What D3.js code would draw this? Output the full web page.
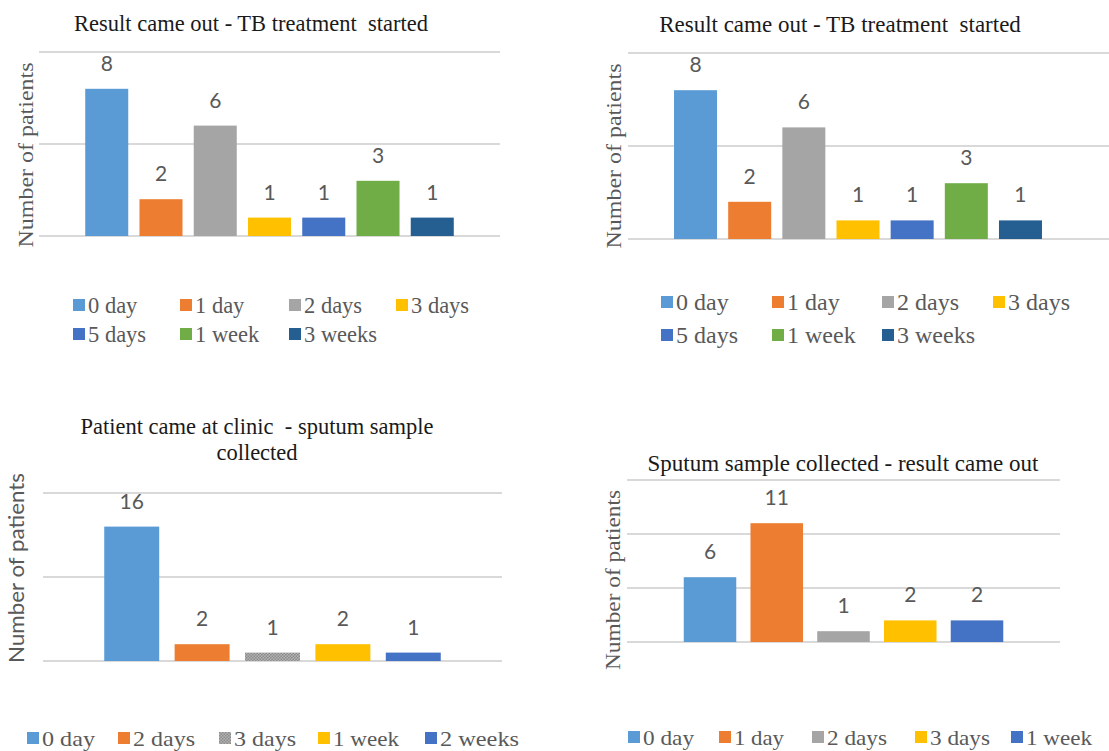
<!DOCTYPE html>
<html>
<head>
<meta charset="utf-8">
<script src="https://cdn.jsdelivr.net/npm/d3@7"></script>
<style>
  body { margin: 0; background: #fff; }
  svg { display: block; }
  .title { font-family: "Liberation Serif", "Times New Roman", serif; fill: #1a1a1a; }
  .ylab { fill: #595959; }
  .val { font-family: Lato, "Open Sans", sans-serif; fill: #595959; }
  .leg { font-family: "Liberation Serif", "Times New Roman", serif; fill: #595959; }
</style>
</head>
<body>
<div id="chart"></div>
<script>
// data
var cats1 = ["0 day", "1 day", "2 days", "3 days", "5 days", "1 week", "3 weeks"];
var vals1 = [8, 2, 6, 1, 1, 3, 1];

var cats3 = ["0 day", "2 days", "3 days", "1 week", "2 weeks"];
var vals3 = [16, 2, 1, 2, 1];

var cats4 = ["0 day", "1 day", "2 days", "3 days", "1 week"];
var vals4 = [6, 11, 1, 2, 2];

var ticks1 = [0, 5, 10];
var ticks3 = [0, 10, 20];
var ticks4 = [0, 5, 10, 15];

var title1 = "Result came out - TB treatment\u00a0 started";
var title3 = ["Patient came at clinic\u00a0 - sputum sample", "collected"];
var title4 = ["Sputum sample collected - result came out"];

var colors1 = ["#5B9BD5", "#ED7D31", "#A5A5A5", "#FFC000", "#4472C4", "#70AD47", "#255E91"];
var colors3 = ["#5B9BD5", "#ED7D31", "url(#hatch)", "#FFC000", "#4472C4"];
var colors4 = ["#5B9BD5", "#ED7D31", "#A5A5A5", "#FFC000", "#4472C4"];

var W = 1109, H = 751;

var svg = d3.select("#chart").append("svg")
    .attr("width", W)
    .attr("height", H);

// dotted grey texture used for the "3 days" bar of the third chart
var pat = svg.append("defs").append("pattern")
    .attr("id", "hatch")
    .attr("patternUnits", "userSpaceOnUse")
    .attr("width", 3).attr("height", 3);
pat.append("rect").attr("width", 3).attr("height", 3).attr("fill", "#b3b3b3");
pat.append("rect").attr("width", 1.5).attr("height", 1.5).attr("fill", "#8c8c8c");
pat.append("rect").attr("x", 1.5).attr("y", 1.5).attr("width", 1.5).attr("height", 1.5).attr("fill", "#8c8c8c");

var panels = [
  { cats: cats1, vals: vals1, colors: colors1, ticks: ticks1,
    x0: 39, x1: 500, gridEnd: 500, y0: 236, y1: 52, pi: 0.207, po: 0.852,
    title: [title1], titleX: 251, titleY: 31, titleSize: 22.5,
    ylabX: 25, ylabY: 155, ylabLen: 185, ylabSerif: true,
    legRows: [[0, 1, 2, 3], [4, 5, 6]], legCols: [73, 180, 289, 396], legY: [305, 334], legSize: 22.5 },
  { cats: cats1, vals: vals1, colors: colors1, ticks: ticks1,
    x0: 628, x1: 1088, gridEnd: 1109, y0: 239, y1: 53, pi: 0.206, po: 0.85,
    title: [title1], titleX: 840, titleY: 32, titleSize: 23,
    ylabX: 613, ylabY: 156, ylabLen: 185, ylabSerif: true,
    legRows: [[0, 1, 2, 3], [4, 5, 6]], legCols: [661, 772, 882, 993], legY: [302, 335], legSize: 24 },
  { cats: cats3, vals: vals3, colors: colors3, ticks: ticks3,
    x0: 43, x1: 502, gridEnd: 502, y0: 661, y1: 493, pi: 0.219, po: 0.87,
    title: title3, titleX: 257, titleY: 434, titleSize: 22.5,
    ylabX: 15, ylabY: 568, ylabLen: 190, ylabSerif: false,
    legRows: [[0, 1, 2, 3, 4]], legCols: [27, 118, 219, 318, 425], legY: [738], legSize: 22,
    legLen: [53, 62, 62, 66, 79] },
  { cats: cats4, vals: vals4, colors: colors4, ticks: ticks4,
    x0: 627, x1: 1060, gridEnd: 1060, y0: 642, y1: 480, pi: 0.213, po: 0.85,
    title: title4, titleX: 843, titleY: 471, titleSize: 23,
    ylabX: 612, ylabY: 580, ylabLen: 180, ylabSerif: true,
    legRows: [[0, 1, 2, 3, 4]], legCols: [628, 719, 812, 915, 1011], legY: [737], legSize: 22,
    legLen: [51, 50, 60, 60, 66] }
];

panels.forEach(function(p) {
  var g = svg.append("g");

  var x = d3.scaleBand()
      .domain(p.cats)
      .range([p.x0, p.x1])
      .paddingInner(p.pi)
      .paddingOuter(p.po);

  var y = d3.scaleLinear()
      .domain([0, d3.max(p.ticks)])
      .range([p.y0, p.y1]);

  // gridlines
  g.selectAll(".grid")
    .data(p.ticks)
    .enter().append("line")
      .attr("x1", p.x0)
      .attr("x2", p.gridEnd)
      .attr("y1", function(d) { return y(d); })
      .attr("y2", function(d) { return y(d); })
      .attr("stroke", "#d9d9d9")
      .attr("stroke-width", 2);

  // bars
  g.selectAll(".bar")
    .data(p.vals)
    .enter().append("rect")
      .attr("x", function(d, i) { return x(p.cats[i]); })
      .attr("y", function(d) { return y(d); })
      .attr("width", x.bandwidth())
      .attr("height", function(d) { return y(0) - y(d); })
      .attr("fill", function(d, i) { return p.colors[i]; });

  // value labels
  g.selectAll(".val")
    .data(p.vals)
    .enter().append("text")
      .attr("class", "val")
      .attr("x", function(d, i) { return x(p.cats[i]) + x.bandwidth() / 2; })
      .attr("y", function(d) { return y(d) - 18; })
      .attr("text-anchor", "middle")
      .style("font-size", "21px")
      .text(function(d) { return d; });

  // title
  g.selectAll(".title")
    .data(p.title)
    .enter().append("text")
      .attr("class", "title")
      .attr("x", p.titleX)
      .attr("y", function(d, i) { return p.titleY + i * 26; })
      .attr("text-anchor", "middle")
      .style("font-size", p.titleSize + "px")
      .text(function(d) { return d; });

  // y axis label
  g.append("text")
    .attr("class", "ylab")
    .attr("transform", "translate(" + p.ylabX + "," + p.ylabY + ") rotate(-90)")
    .attr("text-anchor", "middle")
    .attr("dominant-baseline", "central")
    .attr("textLength", p.ylabLen)
    .attr("lengthAdjust", "spacingAndGlyphs")
    .style("font-family", p.ylabSerif ? "'Liberation Serif', 'Times New Roman', serif" : "Lato, 'Open Sans', sans-serif")
    .style("font-size", (p.ylabSerif ? 22 : 21) + "px")
    .text("Number of patients");

  // legend
  p.legRows.forEach(function(row, r) {
    row.forEach(function(ci, c) {
      var lx = p.legCols[c], ly = p.legY[r];
      g.append("rect")
        .attr("x", lx)
        .attr("y", ly - 6)
        .attr("width", 12)
        .attr("height", 12)
        .attr("fill", p.colors[ci]);
      var t = g.append("text")
        .attr("class", "leg")
        .attr("x", lx + 15)
        .attr("y", ly)
        .attr("dominant-baseline", "central")
        .style("font-size", p.legSize + "px")
        .text(p.cats[ci]);
      if (p.legLen) {
        t.attr("textLength", p.legLen[c]).attr("lengthAdjust", "spacingAndGlyphs");
      }
    });
  });
});
</script>
</body>
</html>
